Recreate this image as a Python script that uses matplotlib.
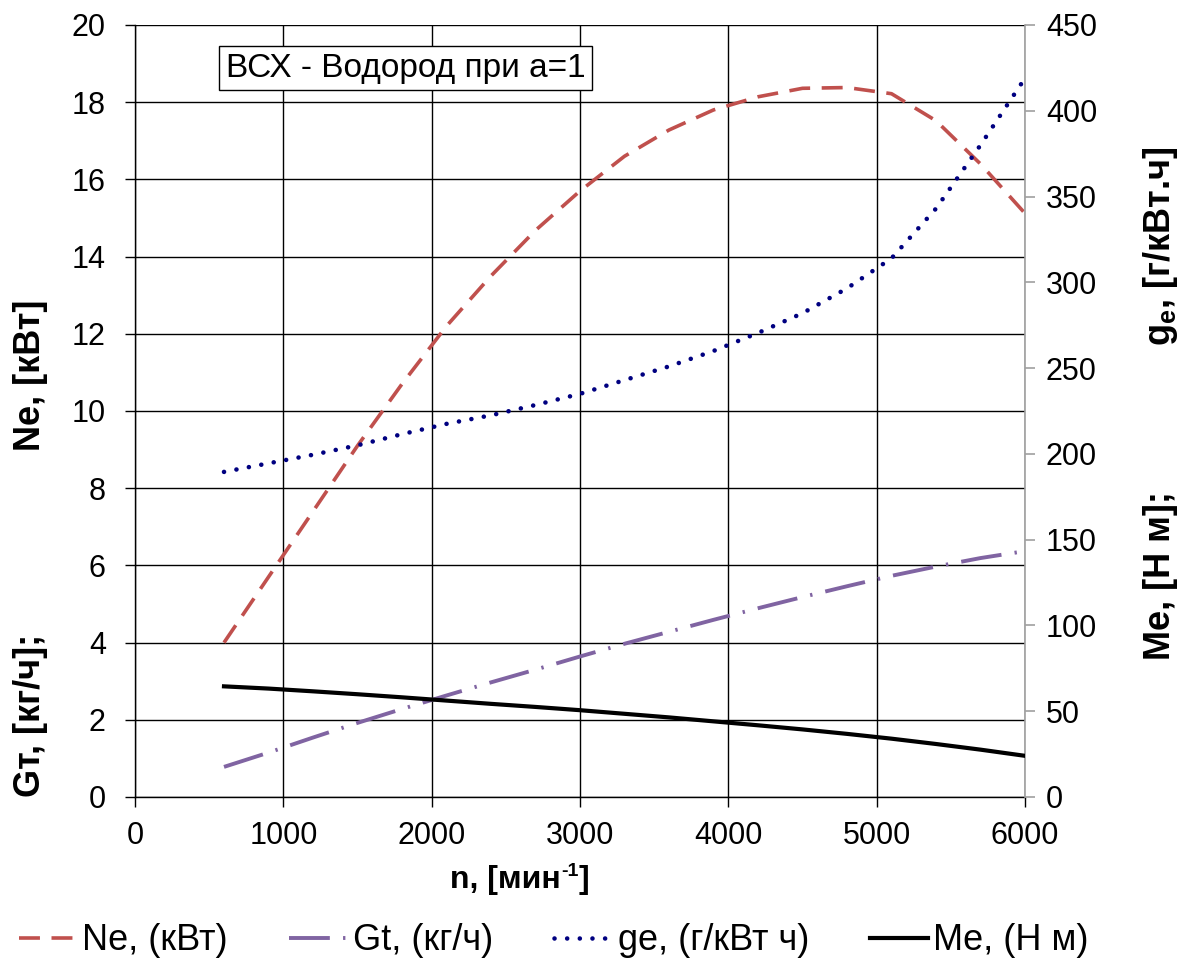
import matplotlib
matplotlib.use("Agg")
import matplotlib.pyplot as plt

# Engine speed, rpm
n_rpm = [600, 900, 1200, 1500, 1800, 2100, 2400, 2700, 3000, 3300,
         3600, 3900, 4200, 4500, 4800, 5100, 5400, 5700, 6000]
# Effective power, kW
ne_kw = [4.0, 5.7, 7.4, 9.1, 10.7, 12.2, 13.5, 14.68, 15.7, 16.6,
         17.28, 17.8, 18.14, 18.36, 18.38, 18.22, 17.52, 16.4, 15.12]
# Hourly fuel consumption, kg/h
gt_kgh = [0.78, 1.15, 1.54, 1.92, 2.28, 2.63, 2.97, 3.30, 3.64, 3.97,
          4.28, 4.59, 4.89, 5.18, 5.46, 5.73, 5.97, 6.19, 6.37]
# Specific fuel consumption, g/kWh
ge_gkwh = [189.5, 194.5, 199.5, 205.0, 211.5, 217.5, 222.5, 228.5, 235.0, 243.0,
           251.0, 260.0, 270.5, 282.0, 296.5, 314.0, 343.0, 380.0, 419.0]
# Effective torque, N*m
me_nm = [64.5, 63.2, 61.6, 59.9, 58.1, 56.2, 54.3, 52.5, 50.6, 48.5,
         46.4, 44.1, 41.8, 39.4, 36.8, 34.0, 30.9, 27.6, 24.0]

x_ticks = [0, 1000, 2000, 3000, 4000, 5000, 6000]
left_ticks = [0, 2, 4, 6, 8, 10, 12, 14, 16, 18, 20]
right_ticks = [0, 50, 100, 150, 200, 250, 300, 350, 400, 450]

plt.rcParams['font.family'] = ['Liberation Sans', 'DejaVu Sans']
plt.rcParams['mathtext.fontset'] = 'custom'
plt.rcParams['mathtext.rm'] = 'Liberation Sans'
plt.rcParams['mathtext.bf'] = 'Liberation Sans:bold'
plt.rcParams['mathtext.it'] = 'Liberation Sans:italic'

W, H = 1184, 964
fig = plt.figure(figsize=(W / 100, H / 100), dpi=100)
L, R, T, B = 135, 1025, 25, 797
ax = fig.add_axes([L / W, 1 - B / H, (R - L) / W, (B - T) / H])
ax2 = ax.twinx()

RED = '#C0504D'
PURPLE = '#8064A2'
NAVY = '#000080'
GRAY = '#A0A0A0'

ax.set_xlim(0, 6000)
ax.set_ylim(0, 20)
ax2.set_ylim(0, 450)
ax.set_xticks(x_ticks)
ax.set_yticks(left_ticks)
ax2.set_yticks(right_ticks)

ax.grid(True, color='black', linewidth=1.0)
ax.set_axisbelow(True)

for s in ['top', 'right']:
    ax.spines[s].set_visible(False)
for s in ['left', 'bottom']:
    ax.spines[s].set_color('black')
    ax.spines[s].set_linewidth(1.0)
for s in ['top', 'left', 'bottom']:
    ax2.spines[s].set_visible(False)
ax2.spines['right'].set_color(GRAY)
ax2.spines['right'].set_linewidth(1.2)

ax.tick_params(axis='both', direction='out', length=7, width=1.0,
               colors='black', labelsize=22)
ax.tick_params(axis='y', pad=14)
ax.tick_params(axis='x', pad=10)
ax2.tick_params(axis='y', direction='out', length=7, width=1.2,
                color=GRAY, labelcolor='black', labelsize=22, pad=8)

# Curves
ln_ne, = ax.plot(n_rpm, ne_kw, color=RED, lw=2.6, dashes=(5.8, 3.2),
                 dash_capstyle='butt', zorder=4)
ln_gt, = ax.plot(n_rpm, gt_kgh, color=PURPLE, lw=2.8,
                 dashes=(10.5, 3.4, 0.6, 3.4), zorder=4)
ln_ge, = ax2.plot(n_rpm, ge_gkwh, color=NAVY, lw=3.3, dashes=(0.01, 2.75),
                  dash_capstyle='round', zorder=4)
ln_me, = ax2.plot(n_rpm, me_nm, color='black', lw=3.0, zorder=4)

# Chart title box
ax.text(0.102, 0.944, 'ВСХ - Водород при а=1', transform=ax.transAxes,
        fontsize=24, ha='left', va='center', zorder=6,
        bbox=dict(boxstyle='square,pad=0.2', facecolor='white',
                  edgecolor='black', linewidth=1.0))

# Axis titles
def ftxt(x, y, s, size=26, **kw):
    return fig.text(x / W, 1 - y / H, s, fontsize=size, fontweight='bold',
                    va='center', **kw)

ftxt(30, 375, 'Ne, [кВт]', rotation=90, ha='center')
ftxt(30, 715, 'Gт, [кг/ч];', rotation=90, ha='center')
ftxt(1160, 246, r'g$_{\mathbf{e}}$, [г/кВт.ч]', rotation=90, ha='center')
ftxt(1160, 575, 'Me, [Н м];', rotation=90, ha='center')

# x title with superscript exponent
xt = ftxt(450, 880, 'n, [мин', size=23, ha='left')
fig.canvas.draw()
bb = xt.get_window_extent()
sup = fig.text(bb.x1 / W, 1 - 880 / H, '-1', fontsize=14, fontweight='bold',
               ha='left', va='bottom')
fig.canvas.draw()
bb2 = sup.get_window_extent()
fig.text(bb2.x1 / W, 1 - 880 / H, ']', fontsize=23, fontweight='bold',
         ha='left', va='center')

# Legend
handles = [ln_ne, ln_gt, ln_ge, ln_me]
labels = ['Ne, (кВт)', 'Gt, (кг/ч)', 'ge, (г/кВт ч)', 'Me, (Н м)']
fig.legend(handles, labels, loc='center', bbox_to_anchor=(0.468, 0.024),
           ncol=4, frameon=False, fontsize=26, handlelength=1.6,
           handletextpad=0.15, columnspacing=1.7)

fig.savefig('out.png', dpi=100)
